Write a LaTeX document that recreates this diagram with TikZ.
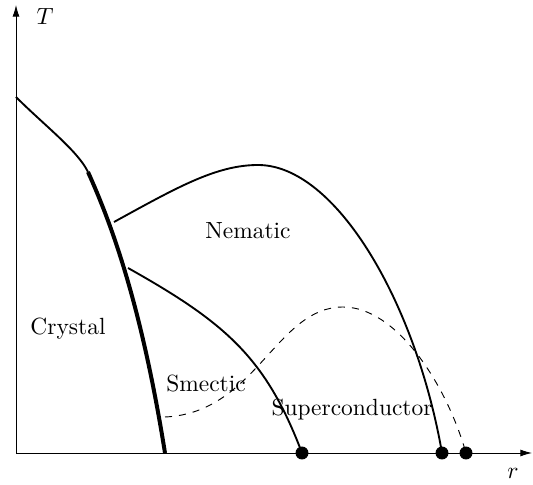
\documentclass[tikz,border=0pt]{standalone}
\usetikzlibrary{arrows.meta}
\begin{document}
\begin{tikzpicture}[x=0.015cm, y=0.015cm,
    boundary/.style={thick},
    firstorder/.style={line width=1.7pt},
    sccurve/.style={dashed, thin},
    label/.style={inner sep=0pt}]
      \useasboundingbox (-16,-32) rectangle (517,453);

      % Axes
      \coordinate (o) at (0,0);
      \coordinate (ttop) at (0,448);
      \coordinate (rend) at (516,0);
      \draw[-{Latex[length=5pt,width=3pt]}] (o) -- (ttop);
      \draw[-{Latex[length=5pt,width=3pt]}] (o) -- (rend);
      \node[label] (tlab) at (29,436) {$T$};
      \node[label] (rlab) at (497,-20) {$r$};

      % Points where the lines meet
      \coordinate (melt) at (0,356);
      \coordinate (kink) at (72,281);
      \coordinate (nemstart) at (98,231);
      \coordinate (smecstart) at (112,185);
      \coordinate (crysend) at (149,0);
      \coordinate (nempeak) at (242,288);
      \coordinate (smecend) at (286,0);
      \coordinate (nemend) at (426,0);
      \coordinate (scstart) at (149,36);
      \coordinate (scpeak) at (327,146);
      \coordinate (scend) at (450,0);

      % Crystal boundary
      \draw[boundary] (melt) .. controls (28,328) and (62,302) .. (kink);
      \draw[firstorder] (kink) .. controls (95,230) and (125,150) .. (crysend);

      % Nematic dome
      \draw[boundary] (nemstart) .. controls (160,265) and (200,288) .. (nempeak)
            .. controls (320,288) and (400,150) .. (nemend);

      % Smectic line
      \draw[boundary] (smecstart) .. controls (210,130) and (250,95) .. (smecend);

      % Superconducting dome
      \draw[sccurve] (scstart) .. controls (240,40) and (260,146) .. (scpeak)
            .. controls (380,146) and (430,70) .. (scend);

      % End points on the r axis
      \filldraw[black] (smecend) circle (6);
      \filldraw[black] (nemend) circle (6);
      \filldraw[black] (scend) circle (6);

      % Phases
      \node[label] (crystal) at (52,124) {Crystal};
      \node[label] (nematic) at (232,222) {Nematic};
      \node[label] (smectic) at (190,69) {Smectic};
      \node[label] (supercond) at (336,43) {Superconductor};
\end{tikzpicture}
\end{document}
